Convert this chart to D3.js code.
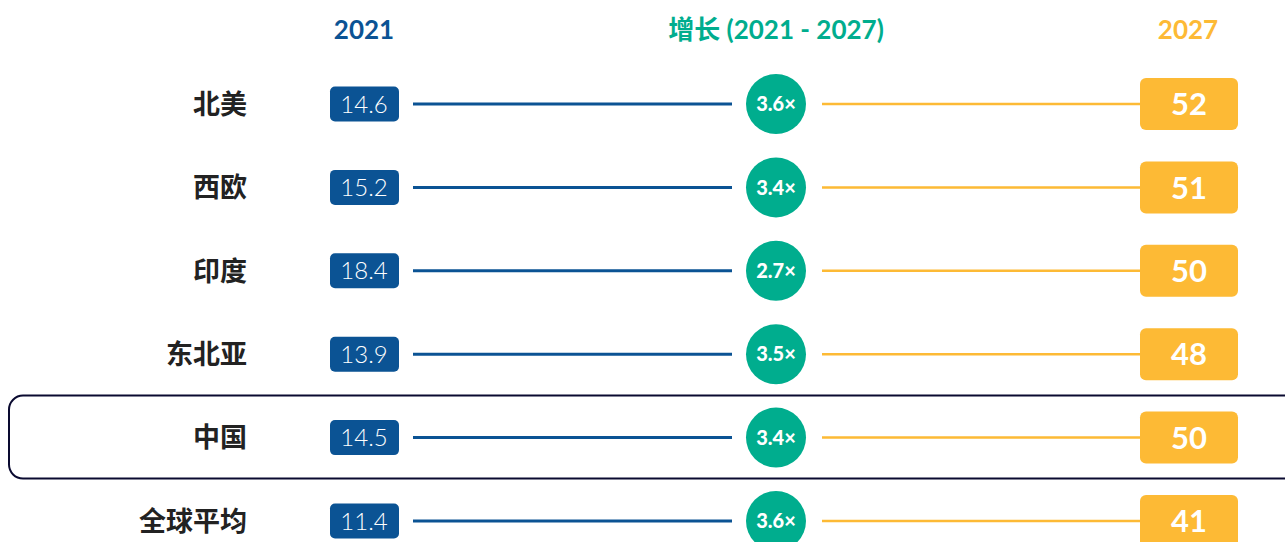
<!DOCTYPE html>
<html>
<head>
<meta charset="utf-8">
<script src="https://cdn.jsdelivr.net/npm/d3@7"></script>
<style>
	body { margin: 0; background: #fff; }
	svg { display: block; font-family: Lato, "Noto Sans CJK SC", sans-serif; }
</style>
</head>
<body>
<svg></svg>
<script>
// Chart data
var regions = ["北美", "西欧", "印度", "东北亚", "中国", "全球平均"];
var values2021 = [14.6, 15.2, 18.4, 13.9, 14.5, 11.4];
var growth = ["3.6×", "3.4×", "2.7×", "3.5×", "3.4×", "3.6×"];
var values2027 = [52, 51, 50, 48, 50, 41];
var columns = ["2021", "增长 (2021 - 2027)", "2027"];
var highlight = "中国";

var svg_width = 1285, svg_height = 542;
var blue = "#0b5394", green = "#00ad8e", orange = "#fdba35";

var svg = d3.select("svg")
	.attr("width", svg_width)
	.attr("height", svg_height);

var x = d3.scalePoint().domain(columns).range([364, 1188]);
var y = d3.scalePoint().domain(regions).range([104, 521]);

var rows = regions.map(function (r, i) {
	return { region: r, v1: values2021[i], g: growth[i], v2: values2027[i] };
});

// Highlight frame
svg.append("rect")
	.attr("x", 9)
	.attr("y", y(highlight) - 42)
	.attr("width", 1300)
	.attr("height", 83)
	.attr("rx", 14)
	.attr("fill", "none")
	.attr("stroke", "#0a0a30")
	.attr("stroke-width", 2);

// Column headers
var colColors = [blue, green, orange];
svg.selectAll(".header")
	.data(columns)
	.enter().append("text")
	.attr("class", "header")
	.attr("x", function (d) { return x(d); })
	.attr("y", 39)
	.attr("text-anchor", "middle")
	.attr("font-size", 26)
	.attr("font-weight", "bold")
	.attr("fill", function (d, i) { return colColors[i]; })
	.text(function (d) { return d; });

var g = svg.selectAll(".row")
	.data(rows)
	.enter().append("g")
	.attr("class", "row")
	.attr("transform", function (d) { return "translate(0," + y(d.region) + ")"; });

// Region label
g.append("text")
	.attr("x", 247)
	.attr("dy", "0.36em")
	.attr("text-anchor", "end")
	.attr("font-family", "'Noto Sans CJK SC', sans-serif")
	.attr("font-size", 27)
	.attr("font-weight", "bold")
	.attr("fill", "#222")
	.text(function (d) { return d.region; });

// Connecting lines
var cx1 = x(columns[0]), cx2 = x(columns[1]), cx3 = x(columns[2]);
g.append("line")
	.attr("x1", cx1 + 49).attr("x2", cx2 - 44)
	.attr("stroke", blue).attr("stroke-width", 3);
g.append("line")
	.attr("x1", cx2 + 46).attr("x2", cx3 - 48)
	.attr("stroke", orange).attr("stroke-width", 2.5);

// 2021 box
g.append("rect")
	.attr("x", cx1 - 34).attr("y", -17.5)
	.attr("width", 69).attr("height", 35)
	.attr("rx", 5)
	.attr("fill", blue);
g.append("text")
	.attr("x", cx1)
	.attr("dy", "0.36em")
	.attr("text-anchor", "middle")
	.attr("font-size", 24)
	.attr("font-weight", 300)
	.attr("fill", "#fff")
	.text(function (d) { return d.v1.toFixed(1); });

// Growth circle
g.append("circle")
	.attr("cx", cx2)
	.attr("r", 30)
	.attr("fill", green);
g.append("text")
	.attr("x", cx2)
	.attr("dy", "0.36em")
	.attr("text-anchor", "middle")
	.attr("font-size", 20)
	.attr("font-weight", 900)
	.attr("fill", "#fff")
	.text(function (d) { return d.g; });

// 2027 box
g.append("rect")
	.attr("x", cx3 - 48).attr("y", -26)
	.attr("width", 98).attr("height", 52)
	.attr("rx", 6)
	.attr("fill", orange);
g.append("text")
	.attr("x", cx3 + 1)
	.attr("dy", "0.36em")
	.attr("text-anchor", "middle")
	.attr("font-size", 31)
	.attr("font-weight", "bold")
	.attr("fill", "#fff")
	.text(function (d) { return d.v2; });
</script>
</body>
</html>
